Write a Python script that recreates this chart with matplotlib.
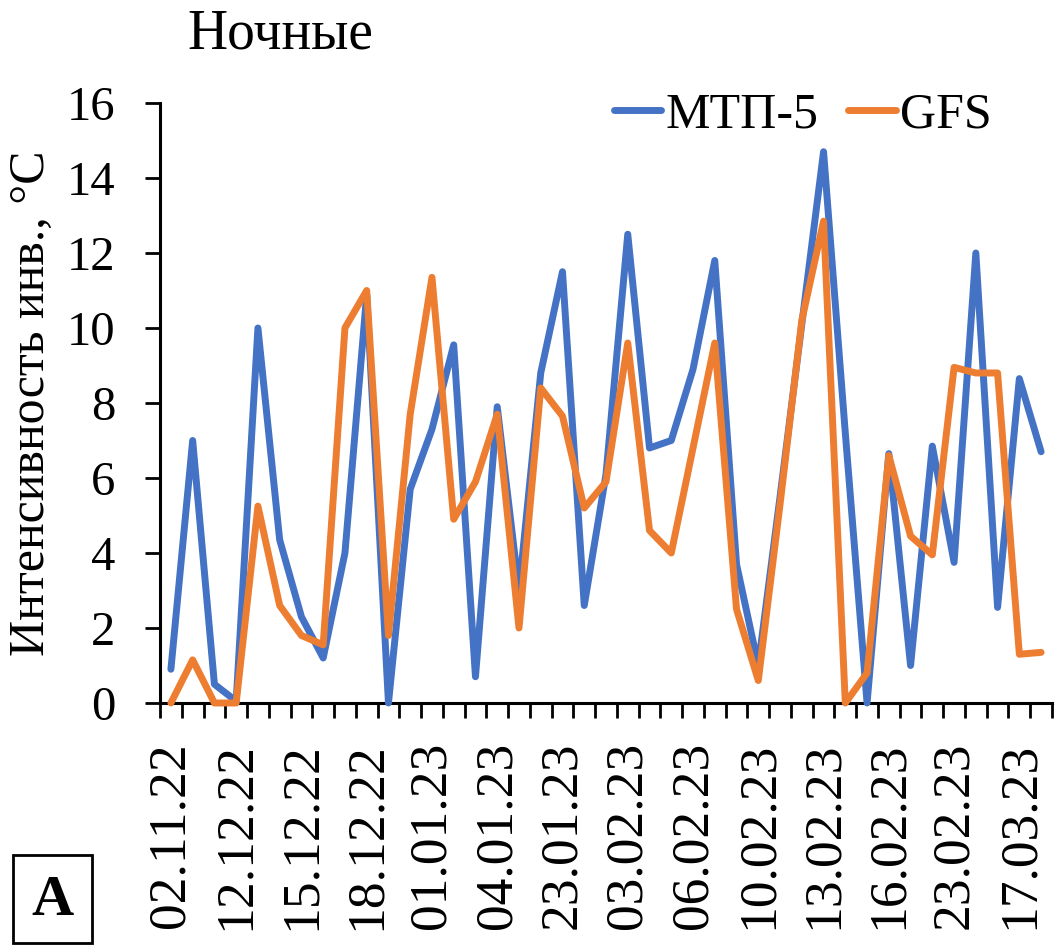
import matplotlib
matplotlib.use("Agg")
import matplotlib.pyplot as plt
from matplotlib.patches import Rectangle

plt.rcParams["font.family"] = ["Liberation Serif", "DejaVu Serif"]

# night-time inversion intensity, one value per observation date
mtp5 = [0.9, 7.0, 0.5, 0.05, 10.0, 4.35, 2.3, 1.2, 4.0, 10.9,
        0.0, 5.7, 7.3, 9.55, 0.7, 7.9, 3.0, 8.8, 11.5, 2.6,
        6.1, 12.5, 6.8, 7.0, 8.9, 11.8, 3.7, 1.0, 5.5, 10.1,
        14.7, 7.2, 0.0, 6.65, 1.0, 6.85, 3.75, 12.0, 2.55, 8.65, 6.7]
gfs = [0.0, 1.15, 0.0, 0.0, 5.25, 2.6, 1.8, 1.55, 10.0, 11.0,
       1.8, 7.7, 11.35, 4.9, 5.9, 7.7, 2.0, 8.4, 7.65, 5.2,
       5.9, 9.6, 4.6, 4.0, 6.8, 9.6, 2.5, 0.6, 5.3, 10.2,
       12.85, 0.0, 0.8, 6.6, 4.45, 3.95, 8.95, 8.8, 8.8, 1.3, 1.35]
date_labels = ["02.11.22", "12.12.22", "15.12.22", "18.12.22", "01.01.23",
               "04.01.23", "23.01.23", "03.02.23", "06.02.23", "10.02.23",
               "13.02.23", "16.02.23", "23.02.23", "17.03.23"]

n = len(mtp5)
x = list(range(n))

fig = plt.figure(figsize=(10.64, 9.5), dpi=100)
ax = fig.add_axes([0.1504, 0.26, 0.8383, 0.6316])

ax.plot(x, mtp5, color="#4472C4", lw=5, label="МТП-5",
        solid_joinstyle="round", solid_capstyle="round", clip_on=False, zorder=3)
ax.plot(x, gfs, color="#ED7D31", lw=5, label="GFS",
        solid_joinstyle="round", solid_capstyle="round", clip_on=False, zorder=4)

ax.set_xlim(-0.5, n - 0.5)
ax.set_ylim(0, 16)
ax.set_yticks(range(0, 17, 2))

# tick marks on category boundaries, labels every third date
ax.set_xticks([i - 0.5 for i in range(n + 1)], minor=True)
ax.set_xticks(range(0, n, 3))
ax.set_xticklabels(date_labels, rotation=90)
ax.tick_params(axis="x", which="major", length=0, pad=28, labelsize=38.5)
ax.tick_params(axis="x", which="minor", length=11, width=2, direction="out")
ax.tick_params(axis="y", length=11, width=2, labelsize=35, pad=21)

for side in ["top", "right"]:
    ax.spines[side].set_visible(False)
for side in ["left", "bottom"]:
    ax.spines[side].set_linewidth(2.2)

ax.set_ylabel("Интенсивность инв., °C", fontsize=36, va="center")
ax.yaxis.set_label_coords(-0.1435, 0.5)

ax.legend(loc="upper right", ncol=2, frameon=False, fontsize=36,
          handlelength=0.95, handletextpad=0.08, columnspacing=0.6,
          borderpad=0.0, borderaxespad=0.0, bbox_to_anchor=(0.932, 1.018))

fig.text(0.176, 0.964, "Ночные", fontsize=40, ha="left", va="center")

# panel letter in a frame
fig.patches.append(Rectangle((13 / 1064, 1 - 943 / 950), 79 / 1064, 88 / 950,
                             transform=fig.transFigure, facecolor="white",
                             edgecolor="black", linewidth=2))
fig.text(52 / 1064, 1 - 901 / 950, "A", fontsize=42, fontweight="bold",
         ha="center", va="center")

fig.savefig("out.png", dpi=100)
